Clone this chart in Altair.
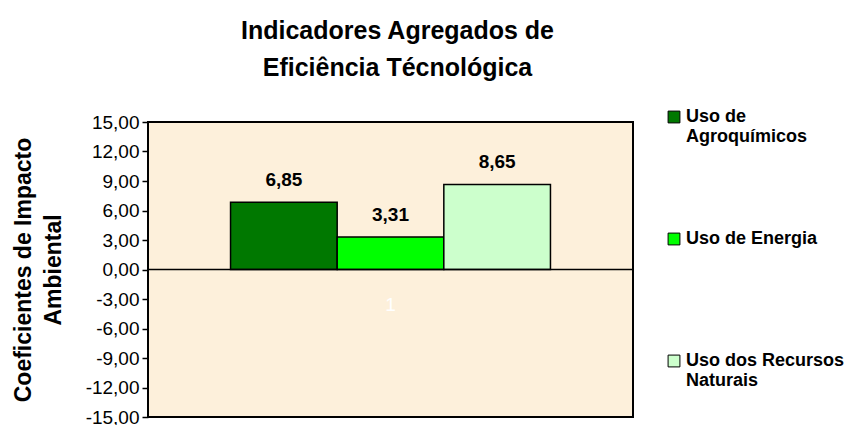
import altair as alt
import pandas as pd

# ---- data ----
categories = ["1"]
series = ["Uso de Agroquímicos", "Uso de Energia", "Uso dos Recursos Naturais"]
legend_lines = [["Uso de", "Agroquímicos"], ["Uso de Energia", ""], ["Uso dos Recursos", "Naturais"]]
values = [6.85, 3.31, 8.65]
value_labels = ["6,85", "3,31", "8,65"]
colors = ["#007800", "#00FF00", "#CCFFCC"]
y_ticks = [-15, -12, -9, -6, -3, 0, 3, 6, 9, 12, 15]

FONT = "Liberation Sans"

df = pd.DataFrame({
    "cat": categories * len(series),
    "serie": series,
    "valor": values,
    "rotulo": value_labels,
})

# legend label expression built from legend_lines
expr_parts = []
for s, lines in zip(series, legend_lines):
    arr = "[" + ",".join("'" + l + "'" for l in lines) + "]"
    expr_parts.append(f"datum.label == '{s}' ? {arr} : ")
legend_expr = "".join(expr_parts) + "datum.label"

x_enc = alt.X("cat:N", scale=alt.Scale(domain=categories, paddingInner=0, paddingOuter=0.258), axis=None)
xo_enc = alt.XOffset("serie:N", scale=alt.Scale(domain=series, paddingInner=0, paddingOuter=0))
y_scale = alt.Scale(domain=[-15, 15], nice=False, zero=False)

base = alt.Chart(df)

bars = base.mark_bar(stroke="black", strokeWidth=1.5).encode(
    x=x_enc,
    xOffset=xo_enc,
    y=alt.Y(
        "valor:Q",
        scale=y_scale,
        axis=alt.Axis(
            values=y_ticks,
            tickCount=len(y_ticks),
            labelExpr="(datum.value < 0 ? '-' : '') + replace(format(abs(datum.value), '.2f'), '.', ',')",
            labelOverlap=False,
            title=["Coeficientes de Impacto", "Ambiental"],
            titleFont=FONT,
            titleFontSize=23,
            titleFontWeight="bold",
            titleColor="black",
            titlePadding=20,
            titleLineHeight=30,
            labelFont=FONT,
            labelFontSize=19,
            labelColor="black",
            labelPadding=3,
            tickColor="black",
            tickSize=6,
            tickWidth=1.5,
            domain=False,
            grid=False,
        ),
    ),
    color=alt.Color(
        "serie:N",
        scale=alt.Scale(domain=series, range=colors),
        legend=alt.Legend(
            title=None,
            orient="none",
            legendX=517,
            legendY=-14,
            labelExpr=legend_expr,
            symbolType="square",
            symbolSize=140,
            symbolStrokeColor="black",
            symbolStrokeWidth=1,
            symbolOpacity=1,
            labelFont=FONT,
            labelFontSize=18,
            labelFontWeight="bold",
            labelColor="black",
            labelLimit=300,
            labelBaseline="middle",
            labelOffset=3,
            rowPadding=84,
            padding=0,
        ),
    ),
)

labels = base.mark_text(dy=-22, fontSize=19, fontWeight="bold", font=FONT, color="black").encode(
    x=x_enc,
    xOffset=xo_enc,
    y=alt.Y("valor:Q", scale=y_scale),
    text="rotulo:N",
)

zero_rule = alt.Chart(pd.DataFrame({"z": [0]})).mark_rule(color="black", strokeWidth=1.5).encode(
    y=alt.Y("z:Q", scale=y_scale)
)

cat_label = alt.Chart(pd.DataFrame({"cat": categories})).mark_text(
    color="white", fontSize=19, font=FONT, dy=35
).encode(
    x=x_enc,
    y=alt.YDatum(0),
    text="cat:N",
)

chart = alt.layer(bars, labels, zero_rule, cat_label).properties(
    width=485,
    height=295,
    background="white",
    title=alt.Title(
        ["Indicadores Agregados de", "Eficiência Técnológica"],
        font=FONT,
        fontSize=25,
        fontWeight="bold",
        color="black",
        anchor="middle",
        lineHeight=37,
        offset=27,
        dx=7,
    ),
    padding={"left": 4, "top": 11, "right": 5, "bottom": 5},
).configure_view(
    fill="#FDF0DB",
    stroke="black",
    strokeWidth=2,
)

chart.save("out.html", embed_options={"renderer": "svg", "actions": False})
